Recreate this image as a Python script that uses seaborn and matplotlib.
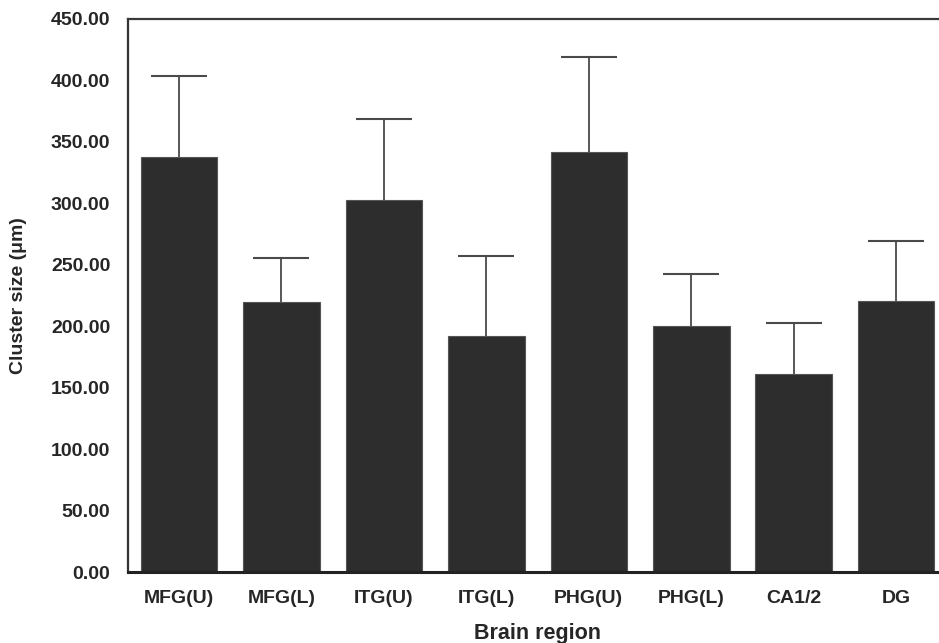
import numpy as np
import pandas as pd
import matplotlib
matplotlib.use("Agg")
import matplotlib.pyplot as plt
from matplotlib.ticker import FixedLocator
import seaborn as sns

# ── Dados ──────────────────────────────────────────────────────────────────────
regioes = ["MFG(U)", "MFG(L)", "ITG(U)", "ITG(L)", "PHG(U)", "PHG(L)", "CA1/2", "DG"]
media   = [337.5, 219.8, 302.5, 192.4, 341.8, 200.6, 161.0, 220.6]
topo_ep = [403.9, 255.9, 368.4, 257.0, 419.1, 242.4, 202.8, 269.4]   # média + erro
erro    = [t - m for t, m in zip(topo_ep, media)]

yticks = [0, 50, 100, 150, 200, 250, 300, 350, 400, 450]

df = pd.DataFrame({"regiao": regioes, "media": media, "erro": erro})

# ── Estilo ─────────────────────────────────────────────────────────────────────
sns.set_style("white")
plt.rcParams["font.family"] = ["Liberation Sans", "DejaVu Sans"]
plt.rcParams["font.weight"] = "bold"

COR_BARRA = "#2d2d2d"
COR_TEXTO = "#262626"

fig = plt.figure(figsize=(9.39, 6.43), dpi=100)
# o eixo passa um pouco da borda direita, como no original recortado
ax = fig.add_axes([0.136, 0.110, 0.873, 0.8605])

sns.barplot(data=df, x="regiao", y="media", color=COR_BARRA, saturation=1,
            width=0.747, errorbar=None, edgecolor="#555555", linewidth=0.8, ax=ax)

# barras de erro só para cima (sem a tampa de baixo)
pos = np.arange(len(regioes))
_, tampas, _ = ax.errorbar(pos, df["media"], yerr=[np.zeros(len(regioes)), df["erro"]],
                           fmt="none", ecolor="#4a4a4a", elinewidth=1.3, capsize=20.4,
                           capthick=1.5, zorder=3)
for t in tampas:
    if np.allclose(t.get_ydata(), df["media"]):
        t.set_visible(False)

ax.set_xlim(-0.5, len(regioes) - 0.5)
ax.set_ylim(0, 450)
ax.set_yticks(yticks)
ax.set_yticklabels([f"{v:.2f}" for v in yticks])

ax.xaxis.set_minor_locator(FixedLocator(np.arange(0.5, len(regioes) - 1, 1.0)))
ax.tick_params(axis="y", which="major", direction="in", length=11, width=1,
               color="#9a9a9a", pad=12.5, labelsize=14, labelcolor=COR_TEXTO)
ax.tick_params(axis="x", which="major", length=0, pad=13,
               labelsize=14, labelcolor=COR_TEXTO)
ax.tick_params(axis="x", which="minor", direction="in", length=9.5, width=1,
               color="#9a9a9a")
for lab in ax.get_xticklabels() + ax.get_yticklabels():
    lab.set_fontweight("bold")

ax.set_xlabel("Brain region", fontsize=15.5, fontweight="bold",
              color=COR_TEXTO, labelpad=11)
ax.set_ylabel("Cluster size (μm)", fontsize=14, fontweight="bold",
              color=COR_TEXTO, labelpad=17)

ax.spines["right"].set_visible(False)
ax.spines["top"].set_color("#3a3a3a")
ax.spines["top"].set_linewidth(1.6)
ax.spines["left"].set_color("#333333")
ax.spines["left"].set_linewidth(1.6)
ax.spines["bottom"].set_color("#222222")
ax.spines["bottom"].set_linewidth(2.2)

fig.savefig("out.png", dpi=100, facecolor="white")
